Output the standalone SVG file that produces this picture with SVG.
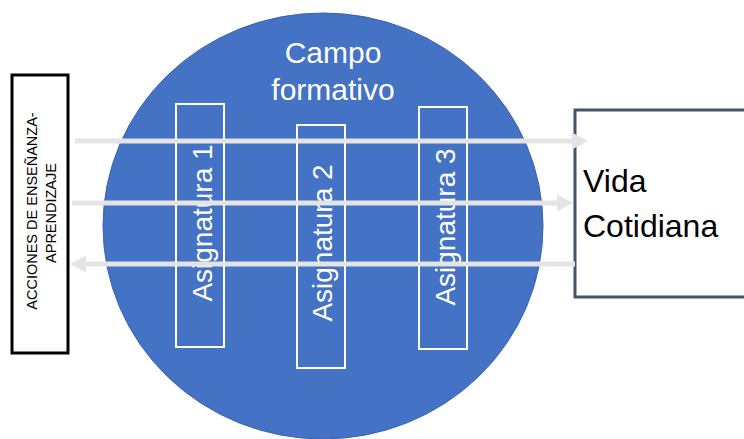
<svg xmlns="http://www.w3.org/2000/svg" width="744" height="439" viewBox="0 0 744 439">
<style>
.wt{fill:#ffffff;font-family:"Liberation Sans",Arial,sans-serif;}
.asig{fill:none;stroke:#ffffff;stroke-width:2;}
.asigt{font-size:28px;text-anchor:middle;}
.conn{stroke:#E4E4E4;stroke-width:5;fill:none;}
.bt{font-family:"Liberation Sans",Arial,sans-serif;fill:#000000;}
</style>
<defs>
<marker id="ah" markerUnits="userSpaceOnUse" markerWidth="17" markerHeight="18" refX="0" refY="9" orient="auto" viewBox="0 0 17 18">
<path d="M0,0.5 L16,9 L0,17.5 z" fill="#E4E4E4"/>
</marker>
</defs>
<rect width="744" height="439" fill="#ffffff"/>
<g id="campo">
<ellipse cx="323" cy="226" rx="220" ry="213" fill="#4472C4" stroke="#3A64B0" stroke-width="1"/>
<text class="wt" x="333" y="63" font-size="30" text-anchor="middle">Campo</text>
<text class="wt" x="333" y="100" font-size="30" text-anchor="middle">formativo</text>
</g>
<g id="asignatura1">
<rect class="asig" x="176" y="104" width="48" height="243"/>
<text class="wt asigt" transform="translate(212,223) rotate(-90)">Asignatura 1</text>
</g>
<g id="asignatura2">
<rect class="asig" x="297" y="125" width="48" height="243"/>
<text class="wt asigt" transform="translate(332,243) rotate(-90)">Asignatura 2</text>
</g>
<g id="asignatura3">
<rect class="asig" x="419" y="107" width="48" height="242"/>
<text class="wt asigt" transform="translate(455,227) rotate(-90)">Asignatura 3</text>
</g>
<g id="acciones">
<rect x="12" y="75" width="56" height="278" fill="#ffffff" stroke="#000000" stroke-width="3"/>
<text class="bt" font-size="14.5" text-anchor="middle" transform="translate(37,211) rotate(-90)">ACCIONES DE ENSEÑANZA-</text>
<text class="bt" font-size="14.5" text-anchor="middle" transform="translate(56,213) rotate(-90)">APRENDIZAJE</text>
</g>
<g id="vida">
<rect x="575" y="110" width="180" height="187" fill="#ffffff" stroke="#44546A" stroke-width="3"/>
<text class="bt" font-size="32" x="583" y="192">Vida</text>
<text class="bt" font-size="32" x="583" y="237">Cotidiana</text>
</g>
<g id="connectors">
<line class="conn" x1="75" y1="141" x2="572" y2="141" marker-end="url(#ah)"/>
<line class="conn" x1="72" y1="203" x2="557" y2="203" marker-end="url(#ah)"/>
<line class="conn" x1="575" y1="264" x2="86" y2="264" marker-end="url(#ah)"/>
</g>
</svg>
